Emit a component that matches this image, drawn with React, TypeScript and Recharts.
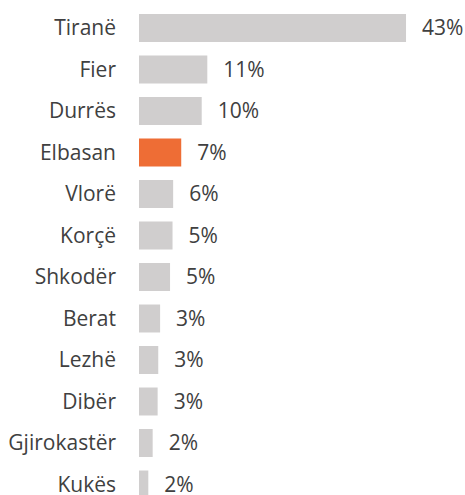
import React from "react";
import { BarChart, Bar, XAxis, YAxis, Cell, LabelList } from "recharts";

const categories = ["Tiranë", "Fier", "Durrës", "Elbasan", "Vlorë", "Korçë", "Shkodër", "Berat", "Lezhë", "Dibër", "Gjirokastër", "Kukës"];
const values = [43, 11, 10.1, 6.8, 5.5, 5.4, 5.0, 3.4, 3.1, 3.0, 2.2, 1.5];
const labels = ["43%", "11%", "10%", "7%", "6%", "5%", "5%", "3%", "3%", "3%", "2%", "2%"];
const highlight = "Elbasan";

const data = categories.map((c, i) => ({ name: c, value: values[i], label: labels[i] }));

const FONT = "'Open Sans', sans-serif";
const TEXT = "#404040";

export default function App() {
  return (
    <div style={{ position: "absolute", left: 0, top: 0, width: 465, height: 495, overflow: "hidden", background: "#fff" }}>
      <BarChart
        width={465}
        height={510}
        data={data}
        layout="vertical"
        margin={{ top: 7, right: 15.5, bottom: 5, left: 0 }}
        barSize={28}
      >
        <XAxis type="number" domain={[0, 50]} hide />
        <YAxis
          type="category"
          dataKey="name"
          width={139}
          axisLine={false}
          tickLine={false}
          tickSize={0}
          tickMargin={23}
          interval={0}
          tick={{ fill: TEXT, fontSize: 21, fontFamily: FONT }}
        />
        <Bar dataKey="value" isAnimationActive={false}>
          {data.map((d) => (
            <Cell key={d.name} fill={d.name === highlight ? "#EE6D35" : "#D0CECE"} />
          ))}
          <LabelList dataKey="label" position="right" offset={16} fill={TEXT} fontSize={21} fontFamily={FONT} />
        </Bar>
      </BarChart>
    </div>
  );
}
